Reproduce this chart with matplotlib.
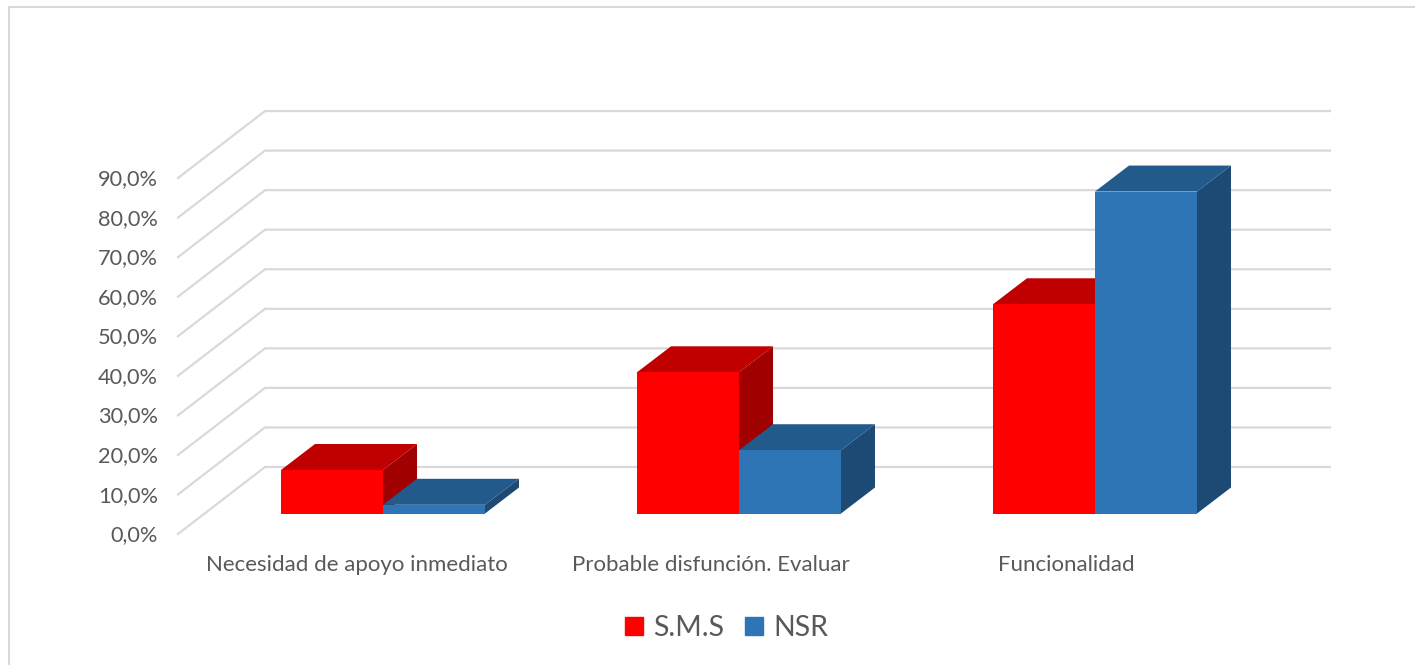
#!/usr/bin/env python3
import matplotlib
matplotlib.use("Agg")
import matplotlib.pyplot as plt
from matplotlib.patches import Rectangle

categories = ["Necesidad de apoyo inmediato", "Probable disfunción. Evaluar", "Funcionalidad"]
sms = [11.0, 35.7, 52.9]
nsr = [2.2, 16.0, 81.4]
ticks = [0, 10, 20, 30, 40, 50, 60, 70, 80, 90]

GREY = "#595959"
GRID = "#d9d9d9"
PX_Y = 3.955     # pixels per percent
PX_X = 356.0     # pixels per category
BASE = 513.5     # pixel row of the bar bottoms
FIRST = 383.0    # pixel column of the first category

plt.rcParams["font.family"] = ["Lato", "DejaVu Sans"]

fig = plt.figure(figsize=(14.15, 6.65), dpi=100)
ax = fig.add_axes([0, 0, 1, 1])
ax.set_xlim(-FIRST / PX_X, (1415 - FIRST) / PX_X)
ax.set_ylim((BASE - 665) / PX_Y, BASE / PX_Y)
ax.axis("off")

# Chart border, only left and top are visible in the crop
ax.plot([9 / 1415, 9 / 1415, 1], [0, 1 - 7 / 665, 1 - 7 / 665],
        transform=ax.transAxes, color=GRID, lw=1.5, clip_on=False)

# Side wall and back wall gridlines
wall_left = (178 - FIRST) / PX_X
wall_back = (265 - FIRST) / PX_X
wall_right = (1330 - FIRST) / PX_X
front_off = (BASE - 534) / PX_Y
back_off = (BASE - 467) / PX_Y
for t in ticks:
    ax.plot([wall_left, wall_back, wall_right],
            [t + front_off, t + back_off, t + back_off],
            color=GRID, lw=1.6, solid_joinstyle="miter", zorder=1)
    ax.text((158 - FIRST) / PX_X, t + front_off - 0.3, "{0:.1f}%".format(t).replace(".", ","),
            ha="right", va="center", fontsize=15.7, color=GREY)


# One 3D looking bar, front face plus top and side faces
def bar3d(x0, value, front, top, side, z):
    w = 102 / PX_X
    dx = 34 / PX_X
    dy = 26 / PX_Y
    ax.fill([x0 + w, x0 + w + dx, x0 + w + dx, x0 + w],
            [0, dy, value + dy, value], color=side, lw=0, zorder=z)
    ax.fill([x0, x0 + dx, x0 + w + dx, x0 + w],
            [value, value + dy, value + dy, value], color=top, lw=0, zorder=z)
    ax.bar(x0, value, width=w, align="edge", color=front, lw=0, zorder=z)


for i in range(len(categories)):
    bar3d(i - 102 / PX_X, sms[i], "#ff0000", "#c00000", "#a00000", 2 + i)
    bar3d(float(i), nsr[i], "#2e75b6", "#225a8b", "#1c4a75", 2.5 + i)
    # the labels sit a bit closer together than the bars
    ax.text(i * 0.9965 - 0.0744, (BASE - 565) / PX_Y, categories[i], ha="center", va="center",
            fontsize=16, color=GREY)

handles = [Rectangle((0, 0), 1, 1, color="#ff0000"), Rectangle((0, 0), 1, 1, color="#2e75b6")]
fig.legend(handles, ["S.M.S", "NSR"], loc="center", bbox_to_anchor=(726.5 / 1415, 1 - 628 / 665),
           ncol=2, frameon=False, fontsize=20.5, labelcolor=GREY, handlelength=0.63,
           handleheight=0.63, handletextpad=0.35, columnspacing=0.75)

fig.savefig("out.png", dpi=100)
